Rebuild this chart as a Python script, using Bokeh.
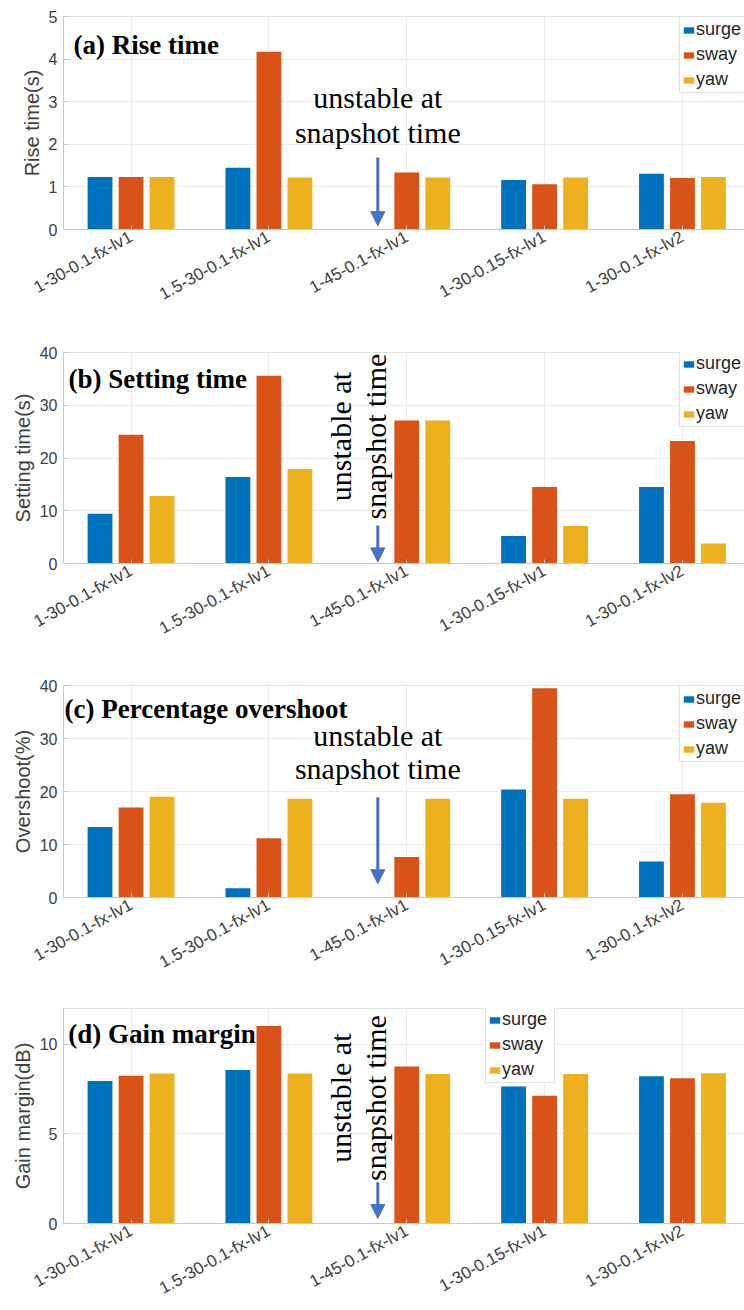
import numpy as np
from math import radians
from bokeh.plotting import figure
from bokeh.layouts import column
from bokeh.models import (ColumnDataSource, Range1d, FixedTicker, Label, Arrow,
                          NormalHead, Legend, LegendItem, Span)
from bokeh.transform import dodge
from bokeh.embed import file_html
from bokeh.resources import INLINE

cases = ["1-30-0.1-fx-lv1", "1.5-30-0.1-fx-lv1", "1-45-0.1-fx-lv1",
         "1-30-0.15-fx-lv1", "1-30-0.1-fx-lv2"]
series = ["surge", "sway", "yaw"]
colors = ["#0072BD", "#D95319", "#EDB120"]
nan = float("nan")

rise_surge = [1.23, 1.45, nan, 1.16, 1.31]
rise_sway = [1.23, 4.17, 1.34, 1.06, 1.21]
rise_yaw = [1.23, 1.22, 1.22, 1.22, 1.23]

settle_surge = [9.45, 16.4, nan, 5.2, 14.5]
settle_sway = [24.4, 35.6, 27.1, 14.5, 23.2]
settle_yaw = [12.8, 17.9, 27.1, 7.1, 3.8]

over_surge = [13.3, 1.75, nan, 20.4, 6.8]
over_sway = [17.0, 11.2, 7.65, 39.5, 19.5]
over_yaw = [19.0, 18.65, 18.65, 18.65, 17.9]

gain_surge = [7.96, 8.57, nan, 7.65, 8.22]
gain_sway = [8.24, 11.02, 8.76, 7.13, 8.11]
gain_yaw = [8.37, 8.37, 8.35, 8.35, 8.39]

GRID = "#ebebeb"
AXC = "#c8c8c8"
TXT = "#404040"


def make_panel(title, ylabel, vals, ymax, yticks, height, bottom, title_xy,
               legend_loc, note_mode, note_pos, arrow_y):
    x = np.arange(1, len(cases) + 1)
    src = ColumnDataSource(dict(x=x, surge=np.array(vals[0], dtype=float),
                                sway=np.array(vals[1], dtype=float),
                                yaw=np.array(vals[2], dtype=float)))
    p = figure(width=744, height=height, output_backend="svg", toolbar_location=None,
               x_range=Range1d(0.51, 5.45), y_range=Range1d(0, ymax),
               min_border_left=63, min_border_right=0, min_border_top=16,
               min_border_bottom=bottom)
    p.outline_line_color = None
    p.background_fill_color = "white"
    p.border_fill_color = "white"
    p.xgrid.grid_line_color = GRID
    p.ygrid.grid_line_color = GRID
    p.add_layout(Span(location=ymax, dimension="width", line_color=AXC, line_width=1))

    offs = [-0.225, 0.0, 0.225]
    items = []
    for s, c, o in zip(series, colors, offs):
        r = p.vbar(x=dodge("x", o), top=s, width=0.18, source=src,
                   fill_color=c, line_color=None)
        items.append(LegendItem(label=s, renderers=[r]))

    leg = Legend(items=items, location=legend_loc)
    leg.border_line_color = AXC
    leg.background_fill_alpha = 1
    leg.label_text_font = "Liberation Sans"
    leg.label_text_font_size = "18px"
    leg.label_text_color = "#262626"
    leg.glyph_width = 13
    leg.glyph_height = 8
    leg.label_standoff = 1
    leg.label_height = 18
    leg.label_width = 50
    leg.spacing = 4
    leg.padding = 2
    leg.margin = 0
    p.add_layout(leg)

    xa = p.xaxis[0]
    xa.ticker = FixedTicker(ticks=list(x))
    xa.major_label_overrides = {int(i): c for i, c in zip(x, cases)}
    xa.major_label_orientation = radians(29)
    ya = p.yaxis[0]
    ya.ticker = FixedTicker(ticks=yticks)
    ya.axis_label = ylabel
    ya.axis_label_text_font = "Liberation Sans"
    ya.axis_label_text_font_style = "normal"
    ya.axis_label_text_font_size = "20px"
    ya.axis_label_text_color = TXT
    ya.axis_label_standoff = 3
    for ax in (xa, ya):
        ax.axis_line_color = AXC
        ax.major_tick_line_color = AXC
        ax.major_tick_in = 4
        ax.major_tick_out = 0
        ax.minor_tick_line_color = None
        ax.major_label_text_font = "Liberation Sans"
        ax.major_label_text_font_size = "16px"
        ax.major_label_text_color = TXT
        ax.major_label_standoff = 6
    xa.major_label_text_font_size = "17px"

    p.add_layout(Label(x=title_xy[0], y=title_xy[1], text=title,
                       text_font="Liberation Serif", text_font_style="bold",
                       text_font_size="27px", text_color="black",
                       text_align="left", text_baseline="alphabetic"))

    lines = ["unstable at", "snapshot time"]
    for t, (nx, ny) in zip(lines, note_pos):
        p.add_layout(Label(x=nx, y=ny, text=t, text_font="Liberation Serif",
                           text_font_size="30px", text_color="black",
                           text_align="center", text_baseline="middle",
                           angle=90 if note_mode == "v" else 0, angle_units="deg"))
    p.add_layout(Arrow(end=NormalHead(size=14, fill_color="#4472C4", line_color="#4472C4"),
                       x_start=2.79, y_start=arrow_y[0], x_end=2.79, y_end=arrow_y[1],
                       line_color="#4472C4", line_width=3))
    return p


pa = make_panel("(a) Rise time", "Rise time(s)", [rise_surge, rise_sway, rise_yaw],
                5, [0, 1, 2, 3, 4, 5], 336, 107, (0.583, 4.32), (616, 136),
                "h", [(2.79, 3.1), (2.79, 2.28)], (1.69, 0.09))
pb = make_panel("(b) Setting time", "Setting time(s)", [settle_surge, settle_sway, settle_yaw],
                40, [0, 10, 20, 30, 40], 333, 106, (0.547, 35.0), (616, 136),
                "v", [(2.518, 24.06), (2.772, 24.06)], (7.2, 0.3))
pc = make_panel("(c) Percentage overshoot", "Overshoot(%)", [over_surge, over_sway, over_yaw],
                40, [0, 10, 20, 30, 40], 323, 95, (0.518, 35.65), (616, 135),
                "h", [(2.79, 30.6), (2.79, 24.4)], (18.9, 2.6))
pd = make_panel("(d) Gain margin", "Gain margin(dB)", [gain_surge, gain_sway, gain_yaw],
                12, [0, 5, 10], 318, 87, (0.545, 10.57), (422, 140),
                "v", [(2.518, 7.0), (2.772, 7.0)], (2.3, 0.28))

layout = column(pa, pb, pc, pd, spacing=0)
open("out.html", "w").write(file_html(layout, INLINE))
